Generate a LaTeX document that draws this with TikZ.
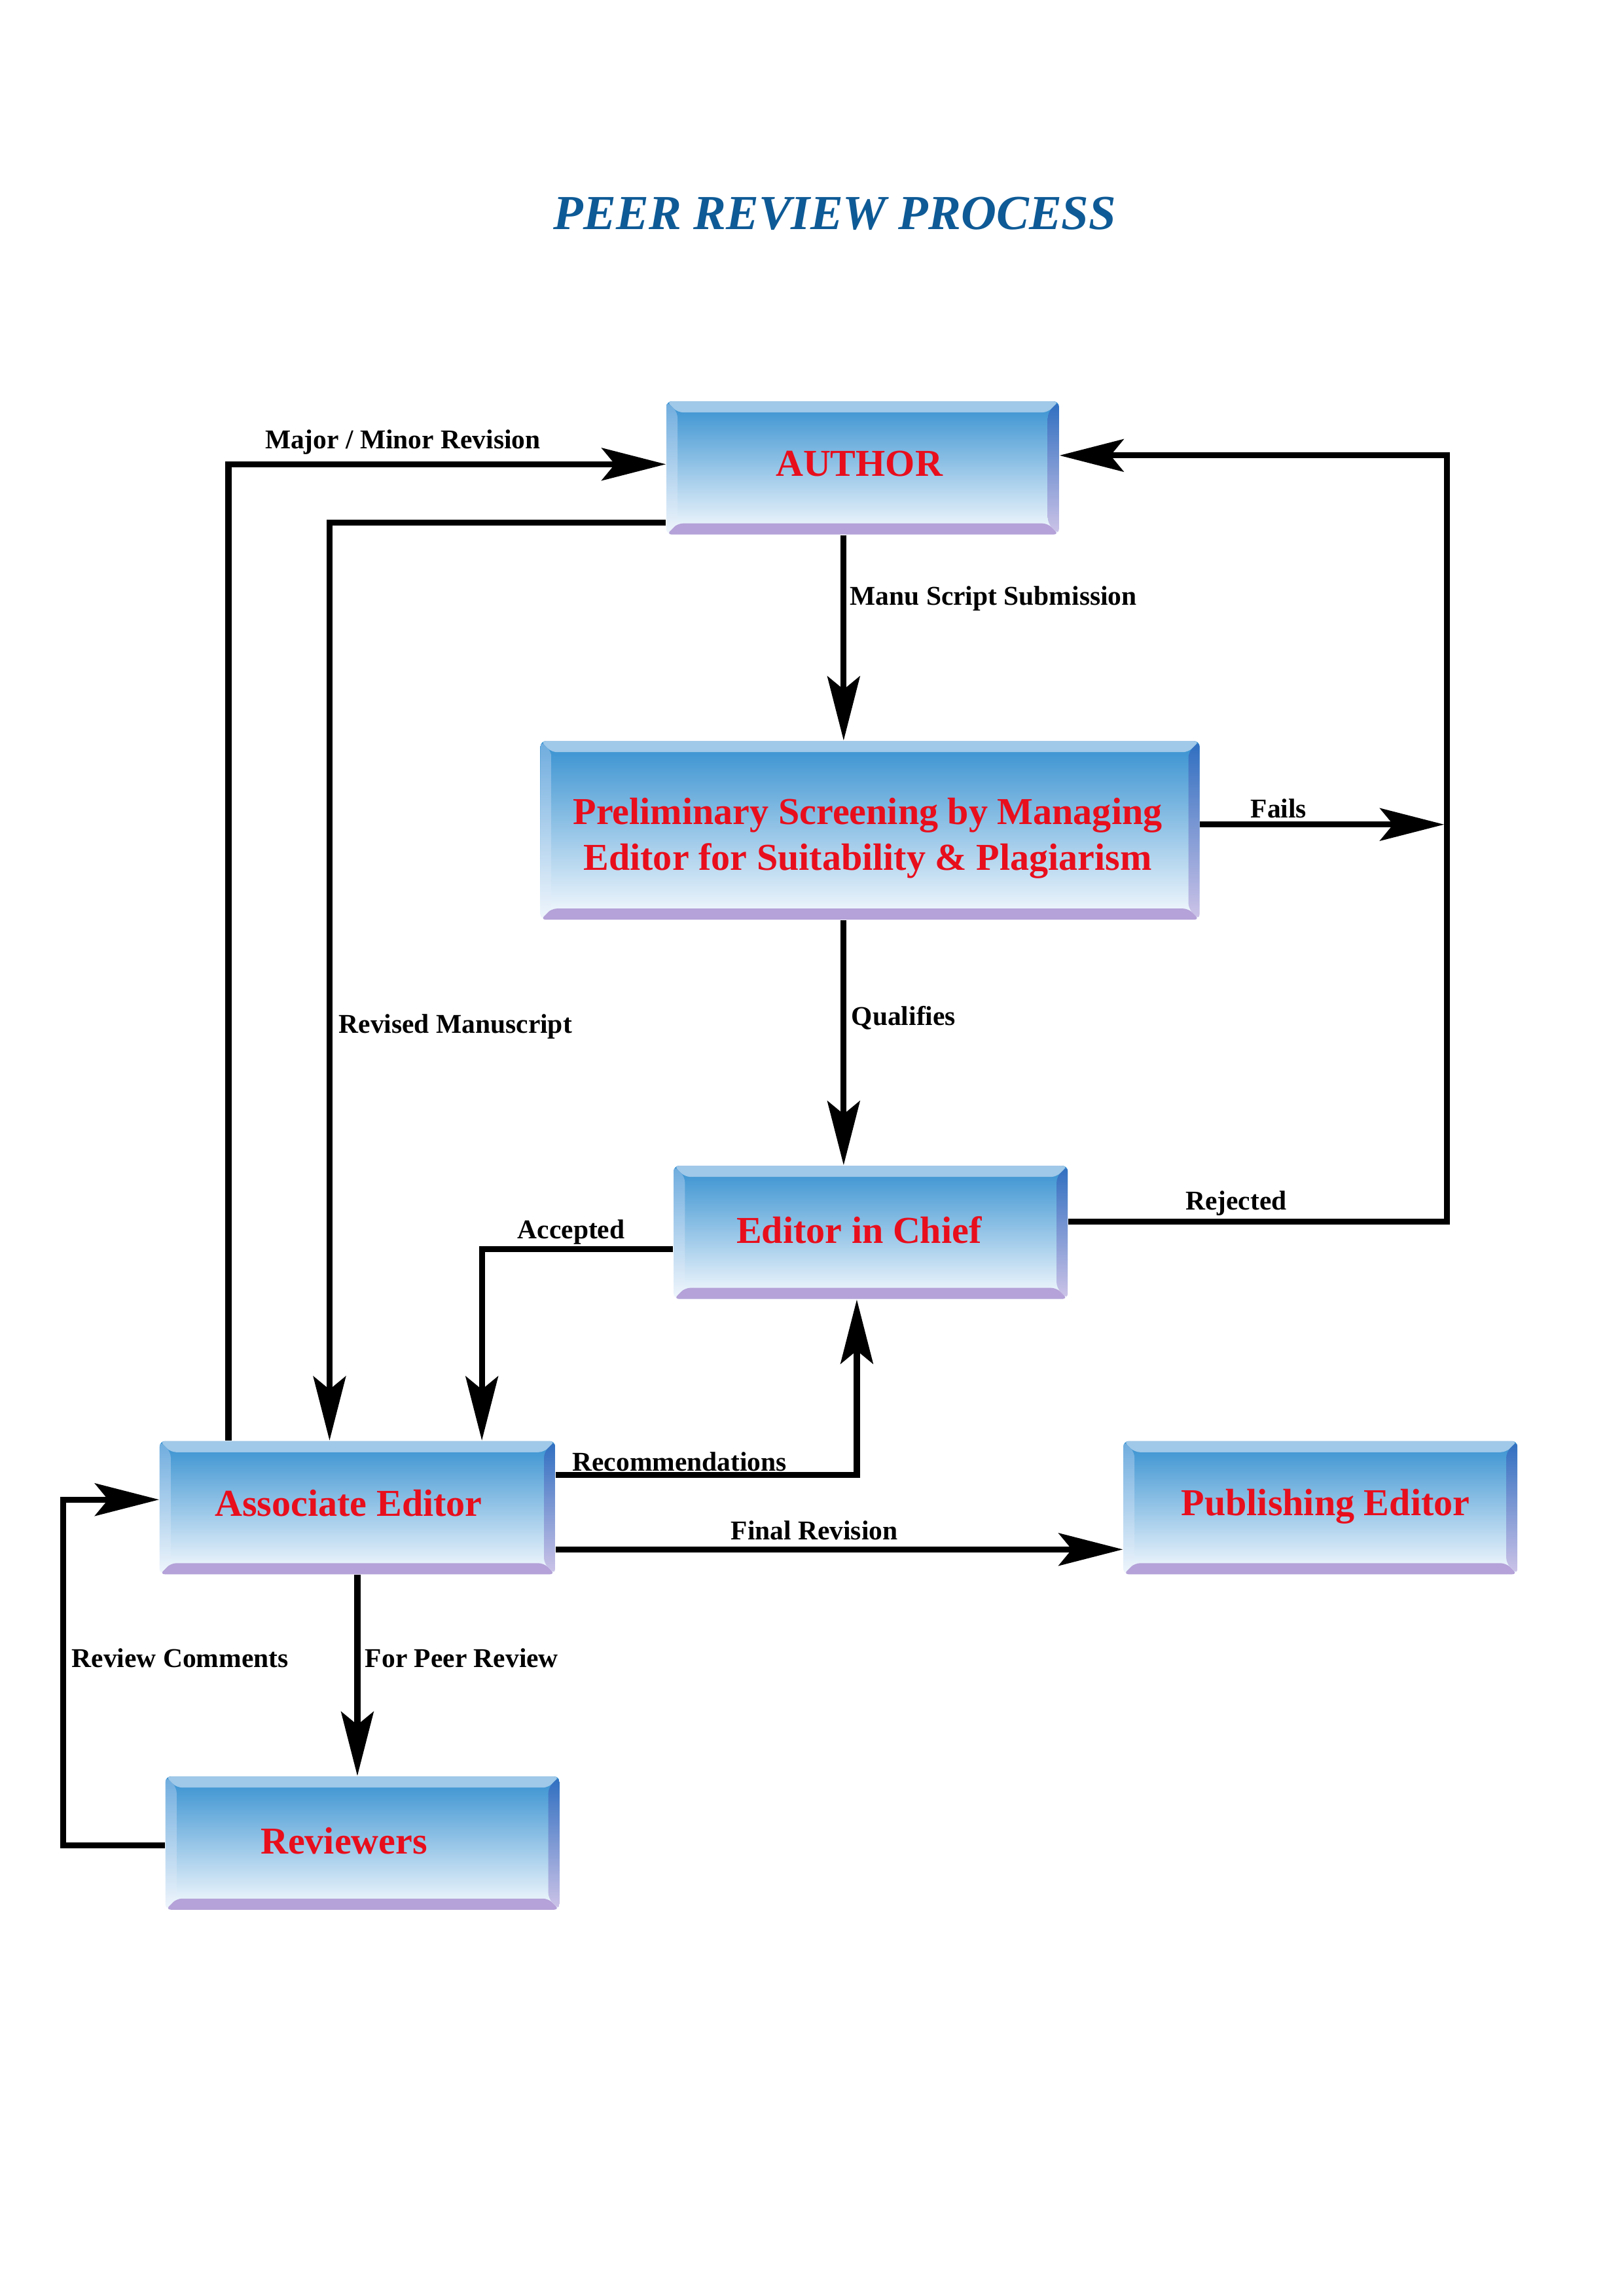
\documentclass[tikz,border=0pt]{standalone}
\usepackage{fontspec}
\setmainfont{Liberation Serif}
\usetikzlibrary{arrows.meta,calc}
\newlength\du
\setlength\du{0.018944cm}
\definecolor{titleblue}{RGB}{14,90,150}
\definecolor{boxred}{RGB}{232,14,28}
\definecolor{facetop}{RGB}{53,144,208}
\definecolor{facebot}{RGB}{246,250,254}
\definecolor{bandtop}{RGB}{160,200,232}
\definecolor{bandbot}{RGB}{180,162,216}
\definecolor{leftA}{RGB}{110,172,222}
\definecolor{leftB}{RGB}{240,246,252}
\definecolor{rightA}{RGB}{46,110,192}
\definecolor{rightB}{RGB}{206,196,232}
\tikzset{
  bevbox/.style={rectangle, rounded corners=2pt, inner sep=0pt,
    top color=facetop, bottom color=facebot,
    path picture={
      \def\bv{4.1pt}
      \fill[bandtop] (path picture bounding box.north west) -- (path picture bounding box.north east)
        -- ([shift={(-\bv,-\bv)}]path picture bounding box.north east)
        -- ([shift={(\bv,-\bv)}]path picture bounding box.north west) -- cycle;
      \fill[bandbot] (path picture bounding box.south west) -- (path picture bounding box.south east)
        -- ([shift={(-\bv,\bv)}]path picture bounding box.south east)
        -- ([shift={(\bv,\bv)}]path picture bounding box.south west) -- cycle;
      \shade[top color=leftA, bottom color=leftB] (path picture bounding box.north west)
        -- ([shift={(\bv,-\bv)}]path picture bounding box.north west)
        -- ([shift={(\bv,\bv)}]path picture bounding box.south west)
        -- (path picture bounding box.south west) -- cycle;
      \shade[top color=rightA, bottom color=rightB] (path picture bounding box.north east)
        -- ([shift={(-\bv,-\bv)}]path picture bounding box.north east)
        -- ([shift={(-\bv,\bv)}]path picture bounding box.south east)
        -- (path picture bounding box.south east) -- cycle;
    }},
  boxtxt/.style={text=boxred, align=center, inner sep=0pt,
    font=\bfseries\fontsize{14}{16.8}\selectfont},
  conn/.style={line width=2.2pt, -{Stealth[length=0.83cm, width=0.42cm, inset=0.17cm]}},
  lbl/.style={font=\bfseries\fontsize{10}{12}\selectfont, inner sep=0pt},
}
\begin{document}
\begin{tikzpicture}[x=\du, y=-\du]
\useasboundingbox (0,0) rectangle (1108.5,1567.8);
% title
\node[text=titleblue, font=\bfseries\itshape\fontsize{18}{21}\selectfont, inner sep=0pt] (title) at (570,146) {PEER REVIEW PROCESS};
% boxes
\node[bevbox, minimum width=268\du, minimum height=91\du,
  label={[boxtxt, xshift=-2.4\du, yshift=3\du]center:AUTHOR}] (aut) at (589,319.5) {};
\node[bevbox, minimum width=450\du, minimum height=122\du,
  label={[boxtxt, xshift=-1.6\du, yshift=-5.5\du]center:{Preliminary Screening by Managing\\Editor for Suitability \& Plagiarism}}] (pre) at (594,567) {};
\node[bevbox, minimum width=269\du, minimum height=91\du,
  label={[boxtxt, xshift=-8\du, yshift=1.5\du]center:Editor in Chief}] (eic) at (594.5,841.5) {};
\node[bevbox, minimum width=270\du, minimum height=91\du,
  label={[boxtxt, xshift=-6\du, yshift=3\du]center:Associate Editor}] (ase) at (244,1029.5) {};
\node[bevbox, minimum width=269\du, minimum height=91\du,
  label={[boxtxt, xshift=3.5\du, yshift=1\du]center:Publishing Editor}] (pub) at (901.5,1029.5) {};
\node[bevbox, minimum width=269\du, minimum height=91\du,
  label={[boxtxt, xshift=-12.6\du, yshift=1.3\du]center:Reviewers}] (rev) at (247.5,1258.5) {};
% helper coordinates
\coordinate (xms) at (576,0);
\coordinate (xrec) at (585,0);
\coordinate (xacc) at (329,0);
\coordinate (xmaj) at (156,0);
\coordinate (xrvm) at (225,0);
\coordinate (xpeer) at (244,0);
\coordinate (yfail) at (0,563);
\coordinate (yrej) at (0,834);
\coordinate (yrejin) at (0,311);
\coordinate (yacc) at (0,853);
\coordinate (yrec) at (0,1007);
\coordinate (yfin) at (0,1058);
\coordinate (yrc) at (0,1260);
\coordinate (yrcin) at (0,1024);
\coordinate (ymaj) at (0,317);
\coordinate (yrvm) at (0,357);
\coordinate (failend) at (986,563);
\coordinate (rj1) at (988,834);
\coordinate (rj2) at (988,311);
\coordinate (ac1) at (329,853);
\coordinate (rc1) at (585,1007);
\coordinate (cm1) at (43,1260);
\coordinate (cm2) at (43,1024);
\coordinate (mj1) at (156,317);
\coordinate (rv1) at (225,357);
% connectors
\draw[conn] (aut.south -| xms) -- (pre.north -| xms);
\draw[conn] (pre.south -| xms) -- (eic.north -| xms);
\draw[conn] (pre.east |- yfail) -- (failend);
\draw[conn] (eic.east |- yrej) -- (rj1) -- (rj2) -- (aut.east |- yrejin);
\draw[conn] (eic.west |- yacc) -- (ac1) -- (ase.north -| xacc);
\draw[conn] (ase.east |- yrec) -- (rc1) -- (eic.south -| xrec);
\draw[conn] (ase.east |- yfin) -- (pub.west |- yfin);
\draw[conn] (ase.south -| xpeer) -- (rev.north -| xpeer);
\draw[conn] (rev.west |- yrc) -- (cm1) -- (cm2) -- (ase.west |- yrcin);
\draw[conn] (ase.north -| xmaj) -- (mj1) -- (aut.west |- ymaj);
\draw[conn] (aut.west |- yrvm) -- (rv1) -- (ase.north -| xrvm);
% labels
\node[lbl] (lmaj) at (275,302) {Major / Minor Revision};
\node[lbl, anchor=west] (lms) at (580,408.5) {Manu Script Submission};
\node[lbl] (lfail) at (873,552) {Fails};
\node[lbl, anchor=west] (lrvm) at (231,701) {Revised Manuscript};
\node[lbl, anchor=west] (lqual) at (581,695) {Qualifies};
\node[lbl] (lrej) at (844,821.5) {Rejected};
\node[lbl] (lacc) at (390,841.5) {Accepted};
\node[lbl] (lrec) at (464,998) {Recommendations};
\node[lbl] (lfin) at (556,1045) {Final Revision};
\node[lbl] (lrc) at (123,1132) {Review Comments};
\node[lbl, anchor=west] (lpeer) at (249,1132) {For Peer Review};
\end{tikzpicture}
\end{document}
